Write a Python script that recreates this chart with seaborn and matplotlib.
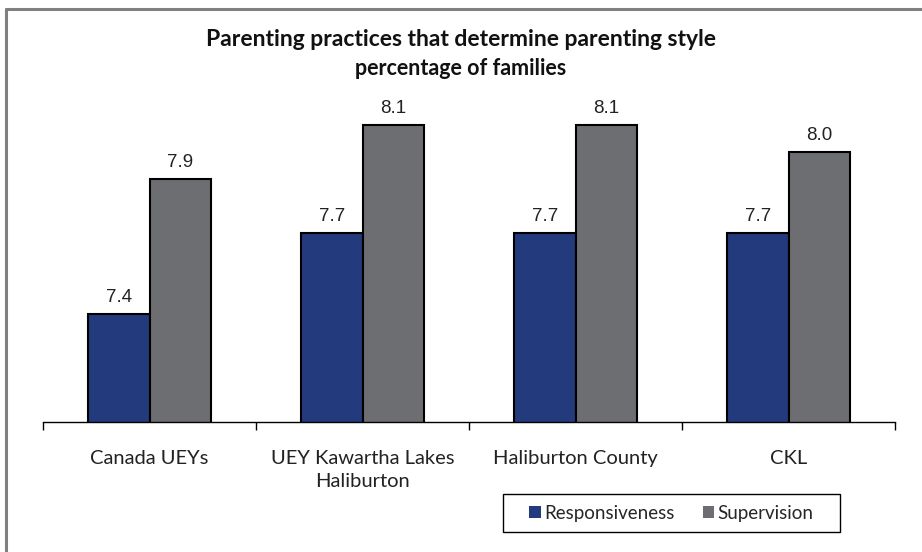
import matplotlib
matplotlib.use("Agg")
import matplotlib.pyplot as plt
import seaborn as sns
import pandas as pd
from matplotlib.lines import Line2D
from matplotlib.patches import Rectangle

categories = ["Canada UEYs", "UEY Kawartha Lakes\nHaliburton", "Haliburton County", "CKL"]
responsiveness = [7.4, 7.7, 7.7, 7.7]
supervision = [7.9, 8.1, 8.1, 8.0]
series = ["Responsiveness", "Supervision"]
colors = ["#233b7d", "#6d6e71"]

df = pd.DataFrame({
    "category": categories * 2,
    "value": responsiveness + supervision,
    "series": [series[0]] * 4 + [series[1]] * 4,
})

sns.set_style("white")
plt.rcParams["font.family"] = ["Lato", "DejaVu Sans"]

fig = plt.figure(figsize=(9.22, 5.52), dpi=100)
ax = fig.add_axes([43 / 922, 130 / 552, 852 / 922, 378 / 552])

sns.barplot(data=df, x="category", y="value", hue="series", palette=colors,
            saturation=1, width=0.573, edgecolor="black", linewidth=1.5,
            ax=ax, legend=False)

for cont in ax.containers:
    ax.bar_label(cont, fmt="%.1f", padding=6, fontsize=13.5,
                 family="Liberation Sans", color="#222222")

ax.set_ylim(7.0, 8.4)
ax.set_xlim(-0.5, 3.5)
ax.set_xlabel("")
ax.set_ylabel("")
ax.set_yticks([])
for s in ["top", "right", "left"]:
    ax.spines[s].set_visible(False)
ax.spines["bottom"].set_color("black")
ax.spines["bottom"].set_linewidth(1.0)

ax.set_xticks(range(len(categories)))
ax.set_xticklabels(categories, fontsize=14.5, color="#222222", linespacing=1.45)
ax.tick_params(axis="x", which="major", length=0, pad=20)
ax.set_xticks([-0.5, 0.5, 1.5, 2.5, 3.5], minor=True)
ax.tick_params(axis="x", which="minor", bottom=True, length=6, width=1,
               color="black", direction="out")

fig.text(0.5, 1 - 46 / 552, "Parenting practices that determine parenting style",
         ha="center", va="baseline", fontsize=16.5, fontweight="bold", color="#111111")
fig.text(0.5, 1 - 75 / 552, "percentage of families",
         ha="center", va="baseline", fontsize=15.5, fontweight="bold", color="#111111")

# legend box
fig.add_artist(Rectangle((503 / 922, 1 - 532 / 552), 337 / 922, 38 / 552,
                         transform=fig.transFigure, facecolor="white",
                         edgecolor="black", linewidth=1.0))
handles = [plt.Rectangle((0, 0), 1, 1, facecolor=c, edgecolor="none") for c in colors]
fig.legend(handles, series, loc="center", bbox_to_anchor=(671.5 / 922, 1 - 513 / 552),
           ncol=2, frameon=False, fontsize=13.5,
           handlelength=0.6, handleheight=0.6, handletextpad=0.2,
           columnspacing=1.5, borderpad=0, borderaxespad=0)

# grey frame (top and left edges)
fig.add_artist(Line2D([6 / 922, 1], [1 - 9 / 552, 1 - 9 / 552], color="#808080", lw=2.2,
                      transform=fig.transFigure))
fig.add_artist(Line2D([6 / 922, 6 / 922], [0, 1 - 9 / 552], color="#808080", lw=2.2,
                      transform=fig.transFigure))

fig.savefig("out.png", dpi=100)
